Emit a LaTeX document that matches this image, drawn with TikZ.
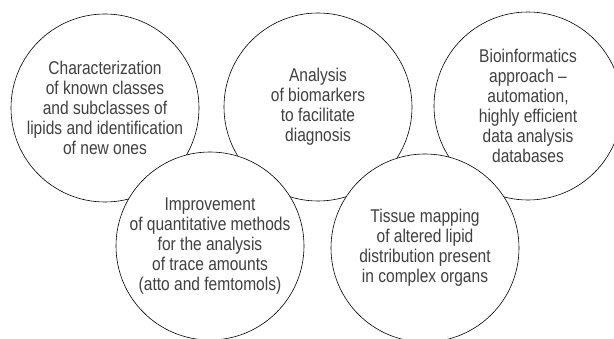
\documentclass[tikz,border=0pt]{standalone}
\usepackage{fontspec}
\setmainfont[FakeStretch=0.84]{Liberation Sans}

\tikzset{bubble/.style={circle,draw=black,fill=white,line width=0.6pt,minimum size=188pt,inner sep=0pt,align=center,text=black!75,font=\fontsize{18.5}{20}\selectfont}}

\begin{document}
\begin{tikzpicture}[x=1pt,y=1pt]
\useasboundingbox (0,0) rectangle (614,338);

\node[bubble] (lipids) at (105,230) {Characterization\\of known classes\\and subclasses of\\lipids and identification\\of new ones};
\node[bubble] (biomark) at (318,231) {Analysis\\of biomarkers\\to facilitate\\diagnosis};
\node[bubble] (bioinf) at (528,232) {Bioinformatics\\approach --\\automation,\\highly efficient\\data analysis\\databases};

\node[bubble] (quant) at (210,92) {Improvement\\of quantitative methods\\for the analysis\\of trace amounts\\(atto and femtomols)};
\node[bubble] (tissue) at (425,90) {Tissue mapping\\of altered lipid\\distribution present\\in complex organs};

\end{tikzpicture}
\end{document}
